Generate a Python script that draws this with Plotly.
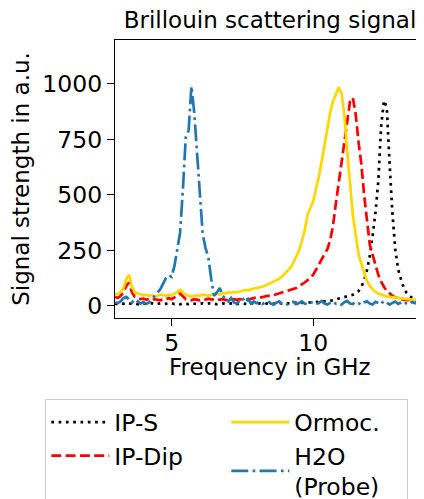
import plotly.graph_objects as go

# Frequency grid (GHz)
freq_ghz = [
    3.0, 3.1, 3.2, 3.3, 3.4, 3.5, 3.6, 3.7, 3.8, 3.9,
    4.0, 4.1, 4.2, 4.3, 4.4, 4.5, 4.6, 4.7, 4.8, 4.9,
    5.0, 5.1, 5.2, 5.3, 5.4, 5.5, 5.6, 5.7, 5.8, 5.9,
    6.0, 6.1, 6.2, 6.3, 6.4, 6.5, 6.6, 6.7, 6.8, 6.9,
    7.0, 7.1, 7.2, 7.3, 7.4, 7.5, 7.6, 7.7, 7.8, 7.9,
    8.0, 8.1, 8.2, 8.3, 8.4, 8.5, 8.6, 8.7, 8.8, 8.9,
    9.0, 9.1, 9.2, 9.3, 9.4, 9.5, 9.6, 9.7, 9.8, 9.9,
    10.0, 10.1, 10.2, 10.3, 10.4, 10.5, 10.6, 10.7, 10.8, 10.9,
    11.0, 11.1, 11.2, 11.3, 11.4, 11.5, 11.6, 11.7, 11.8, 11.9,
    12.0, 12.1, 12.2, 12.3, 12.4, 12.5, 12.6, 12.7, 12.8, 12.9,
    13.0, 13.1, 13.2, 13.3, 13.4, 13.5, 13.6, 13.7, 13.8, 13.9,
    14.0,
]

ip_s = [
    10, 8, 12, 9, 14, 11, 8, 10, 7, 9,
    11, 8, 10, 12, 7, 9, 11, 8, 10, 9,
    12, 8, 10, 7, 11, 9, 8, 12, 10, 7,
    9, 11, 8, 10, 12, 9, 7, 10, 11, 8,
    10, 9, 12, 8, 10, 11, 9, 8, 12, 10,
    9, 11, 10, 8, 12, 10, 11, 9, 13, 10,
    12, 11, 13, 10, 14, 12, 13, 15, 14, 16,
    15, 17, 16, 18, 20, 19, 22, 25, 28, 32,
    35, 38, 42, 46, 50, 58, 66, 85, 115, 160,
    225, 315, 420, 560, 810, 925, 895, 640, 415, 255,
    165, 120, 82, 58, 44, 36, 31, 28, 26, 24,
    23,
]

ip_dip = [
    40, 35, 45, 60, 90, 105, 60, 40, 35, 30,
    32, 28, 30, 25, 30, 28, 25, 30, 28, 35,
    30, 38, 50, 55, 40, 30, 28, 25, 30, 28,
    25, 30, 28, 32, 28, 30, 25, 28, 30, 27,
    25, 28, 30, 27, 30, 28, 30, 28, 32, 35,
    38, 36, 40, 42, 45, 44, 48, 50, 55, 58,
    62, 66, 70, 75, 80, 88, 95, 105, 115, 125,
    140, 160, 185, 210, 235, 255, 295, 360, 460, 550,
    640, 740, 830, 920, 938, 865, 740, 640, 500, 385,
    275, 230, 180, 140, 110, 85, 68, 55, 45, 38,
    33, 30, 27, 26, 25, 24, 24, 23, 22, 22,
    21,
]

ormoc = [
    50, 55, 60, 80, 120, 140, 85, 60, 55, 50,
    48, 50, 45, 48, 42, 45, 50, 48, 45, 50,
    48, 55, 65, 72, 60, 50, 45, 42, 45, 48,
    45, 50, 48, 45, 50, 52, 55, 50, 58, 55,
    60, 58, 62, 60, 65, 68, 72, 70, 75, 78,
    80, 82, 86, 90, 96, 102, 108, 115, 122, 132,
    145, 158, 172, 195, 225, 250, 290, 340, 410, 440,
    470, 530, 580, 650, 720, 800, 870, 920, 950, 985,
    960, 860, 700, 540, 410, 320, 235, 190, 150, 112,
    90, 75, 62, 55, 50, 45, 42, 40, 38, 36,
    34, 32, 31, 30, 29, 28, 28, 27, 26, 26,
    25,
]

h2o_probe = [
    15, 12, 20, 35, 40, 25, 15, 30, 20, 10,
    17, 8, 15, 25, 45, 60, 75, 100, 125, 138,
    130, 180, 260, 330, 530, 760, 790, 990, 870, 700,
    530, 320, 260, 215, 120, 45, 60, 80, 45, 30,
    20, 35, 15, 10, 25, 35, 15, 30, 10, 20,
    12, 18, 8, 15, 22, 10, 5, 14, 20, 8,
    12, 6, 15, 18, 7, 12, 20, 10, 5, 14,
    18, 8, 12, 22, 10, 6, 15, 20, 9, 13,
    5, 16, 22, 10, 8, 18, 12, 4, 15, 20,
    10, 6, 18, 12, 22, 8, 15, 5, 13, 19,
    8, 14, 20, 10, 6, 17, 12, 22, 9, 15,
    12,
]

x_ticks = [5, 10]
y_ticks = [0, 250, 500, 750, 1000]

LW = 2.7
fig = go.Figure()
fig.add_trace(go.Scatter(x=freq_ghz, y=ip_s, mode="lines", name="IP-S", legendrank=1,
                         line=dict(color="black", width=LW, dash="2.7px,4.6px")))
fig.add_trace(go.Scatter(x=freq_ghz, y=ip_dip, mode="lines", name="IP-Dip", legendrank=3,
                         line=dict(color="red", width=LW, dash="10px,4.3px")))
fig.add_trace(go.Scatter(x=freq_ghz, y=ormoc, mode="lines", name="Ormoc.", legendrank=2,
                         line=dict(color="#ffd700", width=LW)))
fig.add_trace(go.Scatter(x=freq_ghz, y=h2o_probe, mode="lines", name="H2O<br>(Probe)", legendrank=4,
                         line=dict(color="#1f77b4", width=LW, dash="17px,4.3px,2.7px,4.3px")))

FONT = "DejaVu Sans"
W, H = 424, 530  # figure taller than the window: the legend runs past the bottom edge
OFF = 8  # page body margin
L, T, R = 115 - OFF, 40 - OFF, 7
B = H - (318 - OFF)
PW, PH = W - L - R, H - T - B
BOTTOM = T + PH  # figure y of plot-area bottom


def paper_y(screen_y):
    return (BOTTOM - (screen_y - OFF)) / PH


fig.update_layout(
    template="none",
    width=W, height=H,
    margin=dict(l=L, r=R, t=T, b=B),
    paper_bgcolor="white", plot_bgcolor="white",
    font=dict(family=FONT, size=23.5, color="black"),
    title=dict(text="Brillouin scattering signal", x=0.5, xref="paper", xanchor="center",
               y=1 - (20 - OFF) / H, yref="container", yanchor="middle",
               font=dict(family=FONT, size=23, color="black")),
    showlegend=True,
    legend=dict(orientation="h", xref="paper", yref="paper",
                x=((45 - OFF) - L) / PW, y=paper_y(399),
                xanchor="left", yanchor="top",
                bordercolor="#cccccc", borderwidth=1.3, bgcolor="white",
                itemwidth=58, entrywidth=107, entrywidthmode="pixels",
                font=dict(family=FONT, size=23.5, color="black")),
    annotations=[dict(text="Frequency in GHz", x=0.5, xref="paper", xanchor="center",
                      y=paper_y(367), yref="paper", yanchor="middle",
                      showarrow=False, font=dict(family=FONT, size=23, color="black"))],
)
fig.update_xaxes(range=[3.0, 13.95], tickvals=x_ticks, showgrid=False, zeroline=False,
                 showline=True, linecolor="black", linewidth=1.3, mirror=True,
                 ticks="outside", ticklen=7, tickwidth=1.3, tickcolor="black",
                 ticklabelstandoff=-3, automargin=False)
fig.update_yaxes(range=[-55, 1198], tickvals=y_ticks, showgrid=False, zeroline=False,
                 showline=True, linecolor="black", linewidth=1.3, mirror=False,
                 ticks="outside", ticklen=7, tickwidth=1.3, tickcolor="black",
                 automargin=False,
                 title=dict(text="Signal strength in a.u.", standoff=6, font=dict(family=FONT, size=23)))

fig.write_html("out.html")
